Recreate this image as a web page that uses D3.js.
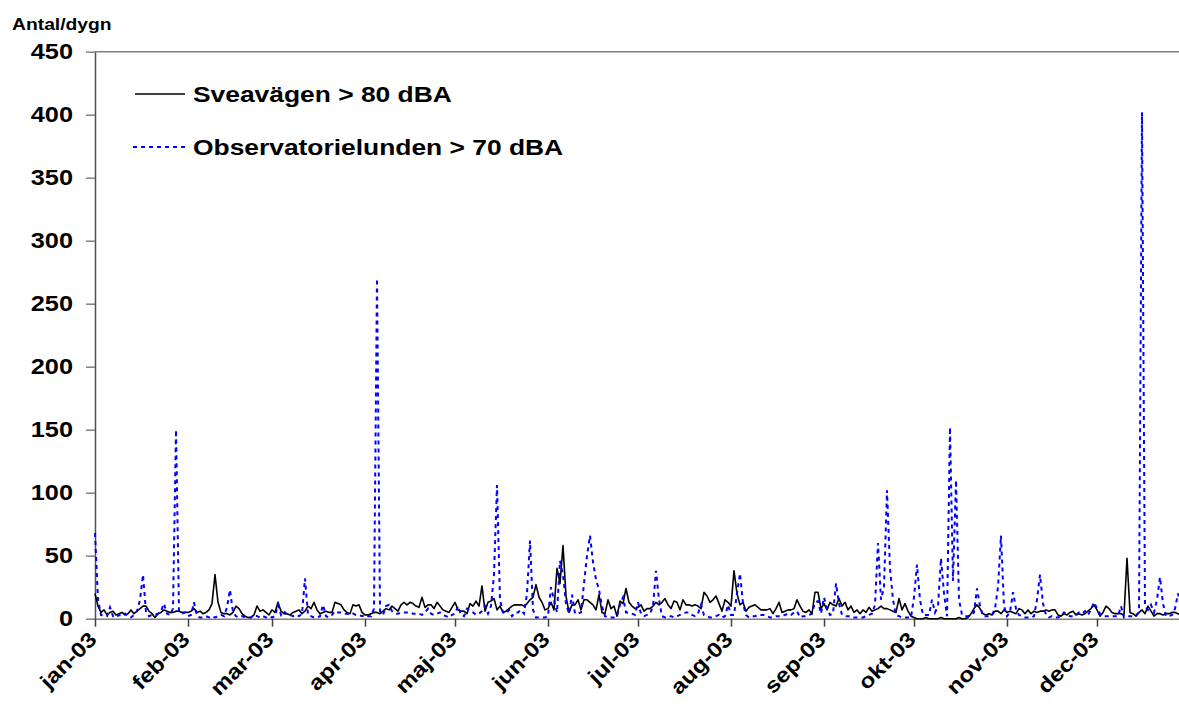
<!DOCTYPE html>
<html>
<head>
<meta charset="utf-8">
<script src="https://cdn.jsdelivr.net/npm/d3@7/dist/d3.min.js"></script>
<style>
  body { margin: 0; background: #fff; }
  svg { display: block; }
  text { font-family: "Liberation Sans", Arial, sans-serif; font-weight: bold; fill: #000; }
</style>
</head>
<body>
<svg id="chart" width="1179" height="708"></svg>
<script>
// daily counts 2003, one row per month
const sveavagen = [
  20,10,5,7,3,5,6,3,4,5, 3,4,7,4,6,8,10,10,6,4, 1,4,5,7,6,5,5,6,6,5, 5,
  5,6,8,5,6,4,5,7,12,35, 13,5,4,4,3,5,10,8,4,2, 1,1,3,10,6,7,5,3,
  7,5,13,6,4,4,3,5,6,7, 4,6,10,8,13,7,4,5,6,5, 5,13,12,11,7,5,4,11,10,11, 5,
  3,3,4,5,5,4,6,8,7,10, 8,6,11,13,11,13,12,10,9,17, 9,11,11,8,13,10,7,6,5,9,
  13,7,6,6,4,12,10,14,10,26, 6,13,14,16,7,10,5,6,8,10, 11,11,11,10,12,15,17,27,17,13, 7,
  8,13,7,40,28,58,18,5,11,11, 15,7,15,15,13,11,7,19,5,4, 15,8,10,2,14,12,24,13,10,8,
  9,11,6,8,8,10,13,11,13,16, 11,8,14,13,7,15,11,11,10,11, 10,8,21,18,13,15,18,12,6,15, 13,
  10,38,20,11,13,6,9,10,11,9, 7,7,7,8,4,8,13,5,6,7, 7,8,15,10,6,5,7,4,21,21, 8,
  12,7,13,11,10,16,10,13,7,10, 5,7,4,7,5,9,6,7,8,10, 8,8,7,6,5,16,7,12,6,2,
  1,0,0,0,1,0,0,0,0,1, 0,0,0,0,0,1,0,0,1,4, 8,11,8,4,3,4,3,6,6,4, 7,
  5,6,5,4,8,7,4,7,4,6, 5,6,6,7,6,7,7,3,2,4, 3,5,6,3,4,3,4,6,8,11,
  7,2,5,10,8,5,4,4,4,3, 48,5,4,2,5,7,4,10,6,2, 4,4,3,4,4,5,5,4,3,4, 5
];
const observatorielunden = [
  68,15,3,2,2,9,2,1,3,2, 4,2,1,3,6,15,35,5,2,3, 3,4,6,12,4,3,8,150,6,4, 5,
  2,3,13,2,1,1,2,1,2,1, 2,3,2,9,23,5,2,1,2,1, 1,1,3,2,1,2,1,2,
  1,2,11,3,6,3,3,2,3,2, 4,32,3,2,1,1,2,11,2,1, 3,6,5,5,4,4,3,4,3,3, 2,
  3,2,2,8,270,6,3,10,11,6, 4,4,5,5,5,5,4,4,4,3, 5,8,4,3,4,5,3,2,1,3,
  4,10,3,2,8,6,5,3,4,6, 10,4,10,35,106,15,5,4,7,2, 5,5,7,4,20,62,7,1,1,1, 1,
  2,25,15,5,46,35,12,4,19,4, 4,5,28,50,66,45,31,23,10,2, 1,1,1,2,11,17,5,5,4,3,
  13,4,2,3,4,10,38,15,2,1, 2,2,1,2,3,4,5,5,3,2, 4,11,3,2,1,1,2,3,1,2, 11,
  3,3,20,36,12,3,1,2,2,3, 3,3,2,1,1,2,2,2,3,4, 3,5,6,1,2,2,3,4,13,14, 4,
  17,8,3,4,28,12,3,2,2,2, 1,1,1,1,2,3,4,11,60,15, 25,102,40,15,3,2,1,1,1,1,
  17,43,15,3,3,3,15,5,10,48, 20,2,152,30,110,15,3,2,2,3, 5,24,10,2,2,2,3,8,25,66, 10,
  2,5,21,8,3,2,1,1,1,2, 15,35,12,3,1,2,1,1,2,5, 3,2,2,3,5,4,6,3,7,13,
  8,4,2,2,2,2,2,2,10,1, 2,2,2,3,5,402,10,7,11,5, 15,33,12,2,2,3,8,20,10,5, 3
];
const monthLabels = ["jan", "feb", "mar", "apr", "maj", "jun", "jul", "aug", "sep", "okt", "nov", "dec"];
const yTicks = [0, 50, 100, 150, 200, 250, 300, 350, 400, 450];
const seriesNames = ["Sveavägen > 80 dBA", "Observatorielunden > 70 dBA"];

const svg = d3.select('#chart');
const plotLeft = 95, plotTop = 51.7, plotBottom = 618.7;
const textStretch = 1.15;

const start = new Date(2003, 0, 1);
const end = new Date(2004, 0, 1);
const x = d3.scaleTime()
  .domain([start, end])
  .range([plotLeft, plotLeft + 365 * 3]);
const y = d3.scaleLinear().domain([0, 450]).range([plotBottom, plotTop]);
const day = i => d3.timeDay.offset(start, i);

// plot frame top line
svg.append('line')
  .attr('x1', plotLeft).attr('x2', x.range()[1])
  .attr('y1', plotTop).attr('y2', plotTop)
  .attr('stroke', '#808080').attr('stroke-width', 1.5);

// y axis
const yAxis = svg.append('g')
  .attr('transform', `translate(${plotLeft},0)`)
  .call(d3.axisLeft(y).tickValues(yTicks).tickSize(9).tickSizeOuter(0).tickFormat(''));
yAxis.select('.domain').attr('stroke', '#505050').attr('stroke-width', 1.5);
yAxis.selectAll('.tick line').attr('stroke', '#808080').attr('stroke-width', 1.5);

svg.append('g').selectAll('text')
  .data(yTicks)
  .join('text')
  .attr('transform', d => `translate(73,${y(d)}) scale(${textStretch},1)`)
  .attr('dy', '0.35em')
  .attr('text-anchor', 'end')
  .style('font-size', '22px')
  .text(d => d);

// x axis
const months = d3.timeMonth.range(start, end);
const xAxis = svg.append('g')
  .attr('transform', `translate(0,${plotBottom})`)
  .call(d3.axisBottom(x).tickValues(months).tickSize(8).tickSizeOuter(0).tickFormat(''));
xAxis.select('.domain').attr('stroke', '#808080').attr('stroke-width', 1.5);
xAxis.selectAll('.tick line').attr('stroke', '#404040').attr('stroke-width', 1.5);

svg.append('g').selectAll('text')
  .data(months)
  .join('text')
  .attr('transform', d => `translate(${x(d) + 3},${plotBottom + 22}) rotate(-45) scale(${textStretch},1)`)
  .attr('text-anchor', 'end')
  .style('font-size', '21px')
  .text((d, i) => monthLabels[i] + '-03');

// unit label
svg.append('text')
  .attr('transform', 'translate(12,29.5) scale(1.17,1)')
  .style('font-size', '16.5px')
  .text('Antal/dygn');

// series
const line = d3.line()
  .x((d, i) => x(day(i)))
  .y(d => y(d))
  .curve(d3.curveLinear);

svg.append('path')
  .attr('d', line(sveavagen))
  .attr('fill', 'none')
  .attr('stroke', '#000')
  .attr('stroke-width', 1.6)
  .attr('stroke-linejoin', 'round');

svg.append('path')
  .attr('d', line(observatorielunden))
  .attr('fill', 'none')
  .attr('stroke', '#0000ff')
  .attr('stroke-width', 2)
  .attr('stroke-dasharray', '4,4');

// legend
const legend = svg.append('g');
legend.append('line')
  .attr('x1', 135).attr('x2', 185).attr('y1', 94).attr('y2', 94)
  .attr('stroke', '#000').attr('stroke-width', 1.6);
legend.append('line')
  .attr('x1', 133).attr('x2', 185).attr('y1', 147).attr('y2', 147)
  .attr('stroke', '#0000ff').attr('stroke-width', 2).attr('stroke-dasharray', '4,4');
legend.selectAll('text')
  .data(seriesNames)
  .join('text')
  .attr('transform', (d, i) => `translate(193,${102 + i * 53}) scale(1.2,1)`)
  .style('font-size', '22px')
  .text(d => d);
</script>
</body>
</html>
